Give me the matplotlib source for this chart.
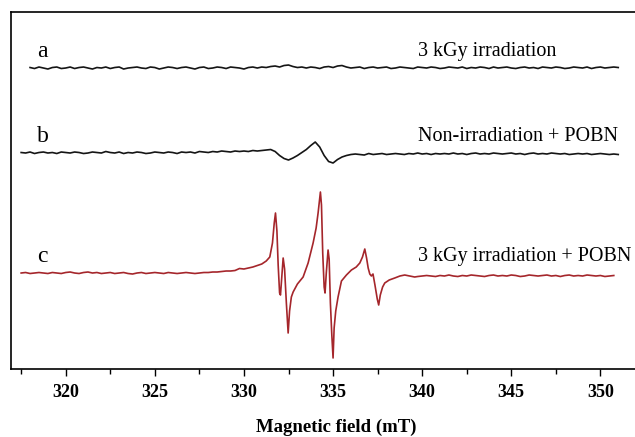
import numpy as np
import matplotlib.pyplot as plt

plt.rcParams['font.family'] = ['Liberation Serif', 'DejaVu Serif']

# EPR spectra, signal in arbitrary units relative to each trace's baseline
step = 0.25

# a: 3 kGy irradiation, sampled from 318.0 mT
a_start = 318.0
a_signal = [0.5, -0.5, 1.0, 0.0, -1.0, 0.5, 1.0, -0.5, 0.0, 1.0,
            -0.5, 0.5, 1.0, 0.0, -1.0, 0.5, 0.0, 1.0, -0.5, 0.5,
            1.0, -1.0, 0.0, 0.5, 1.0, 0.0, -0.5, 1.0, 0.5, -1.0,
            0.0, 1.0, 0.5, -0.5, 0.5, 1.0, 0.0, -1.0, 0.5, 1.0,
            -0.5, 0.0, 1.0, 0.5, -0.5, 1.0, 0.5, 0.0, -1.0, 0.5,
            1.0, 0.0, 1.0, 0.5, 1.5, 2.0, 1.0, 2.5, 3.0, 1.5,
            0.5, 1.0, 0.0, 1.0, 0.5, -0.5, 1.0, 1.5, 0.5, 2.0,
            2.5, 1.0, 0.0, 0.5, 1.0, -0.5, 0.5, 1.0, 0.0, 0.5,
            1.0, -0.5, 0.0, 1.0, 0.5, 0.0, -0.5, 1.0, 0.5, 0.0,
            1.0, 0.5, -0.5, 0.0, 1.0, 0.5, 0.0, 1.0, -0.5, 0.5,
            0.0, 1.0, 0.5, -0.5, 1.0, 0.0, 0.5, 1.0, 0.0, -0.5,
            0.5, 1.0, 0.0, 0.5, -0.5, 1.0, 0.5, 0.0, 1.0, 0.5,
            -0.5, 0.0, 1.0, 0.5, 0.0, 1.0, -0.5, 0.5, 1.0, 0.0,
            0.5, 1.0, 0.5]

# b: non-irradiation + POBN, sampled from 317.5 mT
b_start = 317.5
b_signal = [0.5, 0.0, 1.0, -0.5, 0.5, 1.0, 0.0, 0.5, -0.5, 1.0,
            0.5, 0.0, 1.0, 0.5, -0.5, 0.0, 1.0, 0.5, 0.0, 1.5,
            0.5, 0.0, 1.0, -0.5, 0.5, 0.0, 1.0, 0.5, -0.5, 0.0,
            1.0, 0.5, 0.0, 1.0, 0.5, -0.5, 1.0, 0.5, 1.0, 0.0,
            1.5, 1.0, 0.5, 1.5, 1.0, 2.0, 1.5, 1.0, 2.0, 1.5,
            2.0, 1.5, 2.5, 2.0, 2.5, 3.0, 3.5, 1.5, -2.5, -5.5,
            -7.0, -5.0, -2.5, 0.5, 3.5, 7.5, 11.0, 6.0, -2.5, -8.5,
            -10.0, -6.5, -4.0, -2.5, -1.5, -1.0, -1.5, -2.0, -0.5, -1.5,
            -1.0, -0.5, -1.5, -1.0, -0.5, -1.0, -1.5, -0.5, -1.0, 0.0,
            -1.0, -0.5, -1.5, -0.5, -1.0, -0.5, -1.0, 0.0, -1.0, -0.5,
            -1.5, -0.5, 0.0, -1.0, -0.5, -1.0, 0.0, -0.5, -1.0, -0.5,
            0.0, -1.0, -0.5, -1.5, -0.5, 0.0, -1.0, -0.5, -1.0, 0.0,
            -0.5, -1.0, -0.5, -1.5, -1.0, -0.5, -1.0, -0.5, -1.5, -1.0,
            -0.5, -1.0, -1.5, -1.0, -1.5]

# c: 3 kGy irradiation + POBN, flat wings on a 0.25 mT grid, lines read point by point
c_left_start = 317.5
c_left = [0.0, 0.5, -0.5, 0.0, 0.5, 0.0, -0.5, 0.5, 0.0, -0.5,
          0.5, 1.0, 0.0, -0.5, 0.5, 1.0, 0.0, 0.5, -0.5, 0.0,
          0.5, -0.5, 0.0, 0.5, -0.5, -1.0, 0.0, 0.5, -0.5, 0.0,
          0.5, 0.0, -0.5, 0.5, 0.0, -0.5, 0.0, 0.5, 0.0, -0.5,
          0.0, 0.5, 0.5, 1.0, 1.0, 1.5, 2.0, 2.0, 2.5, 4.5,
          4.0, 5.0]
c_mid_field = [330.50, 330.75, 331.00, 331.25, 331.45, 331.60, 331.70, 331.77,
               331.85, 331.92, 332.00, 332.05, 332.12, 332.20, 332.28, 332.38,
               332.48, 332.56, 332.66, 332.76, 333.00, 333.32, 333.60, 333.88,
               334.05, 334.16, 334.25, 334.29, 334.35, 334.42, 334.50, 334.55,
               334.62, 334.72, 334.78, 334.85, 334.93, 335.00, 335.06, 335.15,
               335.28, 335.47, 335.75, 336.03, 336.30, 336.50, 336.65, 336.78,
               336.88, 336.97, 337.06, 337.15, 337.24, 337.35, 337.48, 337.56,
               337.65, 337.78, 337.90, 338.15, 338.46, 338.75, 339.02, 339.30,
               339.58]
c_mid = [6, 7.5, 9, 12, 16, 30, 50, 60,
         42, 8, -20, -22, -5, 15, 4, -30,
         -60, -38, -24, -19, -11, -4, 10, 30,
         45, 60, 75, 81, 68, 20, -14, -20,
         0, 23, 14, -30, -62, -85, -55, -38,
         -24, -8, -2, 3, 6, 10, 16, 24,
         15, 5, -1, -3, -1, -12, -26, -32,
         -22, -14, -10, -7, -5, -3, -2, -3,
         -4]
c_right_start = 339.75
c_right = [-3.5, -3.0, -2.5, -3.0, -3.5, -2.5, -3.0, -2.0, -3.0, -3.5,
           -2.5, -3.0, -2.0, -2.5, -3.0, -3.5, -2.5, -2.0, -3.0, -2.5,
           -3.0, -2.0, -2.5, -3.5, -3.0, -2.0, -2.5, -3.0, -2.5, -2.0,
           -3.0, -2.5, -3.5, -2.5, -2.0, -3.0, -2.5, -3.0, -2.0, -2.5,
           -3.0, -2.5, -3.5, -3.0, -2.5]

letters = ['a', 'b', 'c']
names = ['3 kGy irradiation', 'Non-irradiation + POBN', '3 kGy irradiation + POBN']
offsets = [301, 216, 96]
colors = ['#151515', '#151515', '#a5262b']

a_field = a_start + step * np.arange(len(a_signal))
b_field = b_start + step * np.arange(len(b_signal))
c_field = np.concatenate([c_left_start + step * np.arange(len(c_left)),
                          c_mid_field,
                          c_right_start + step * np.arange(len(c_right))])
c_signal = np.concatenate([c_left, c_mid, c_right])

fields = [a_field, b_field, c_field]
signals = [np.array(a_signal), np.array(b_signal), c_signal]

fig = plt.figure(figsize=(6.35, 4.37), dpi=100)
ax = fig.add_axes([0.0173, 0.1556, 0.9827, 0.8169])

for x, y, off, col, let, name in zip(fields, signals, offsets, colors, letters, names):
    ax.plot(x, y + off, color=col, lw=1.2)
    ax.text(318.4, off + 11, let, fontsize=17, ha='left', va='baseline')
    ax.text(339.75, off + 12, name, fontsize=14.5, ha='left', va='baseline')

ax.set_xlim(316.93, 351.94)
ax.set_ylim(0, 357)
ax.set_yticks([])
ax.set_xticks(np.arange(320, 351, 5))
ax.set_xticks(np.arange(317.5, 351, 5), minor=True)
ax.tick_params(axis='x', which='major', direction='out', length=5, width=1.0,
               pad=6, labelsize=13)
ax.tick_params(axis='x', which='minor', direction='out', length=3.5, width=1.0)
for lab in ax.get_xticklabels():
    lab.set_fontweight('bold')

ax.spines['right'].set_visible(False)
for s in ['left', 'top', 'bottom']:
    ax.spines[s].set_linewidth(1.2)

ax.set_xlabel('Magnetic field (mT)', fontsize=13.5, fontweight='bold')
ax.xaxis.set_label_coords(0.522, -0.14)

fig.savefig('out.png', dpi=100)
